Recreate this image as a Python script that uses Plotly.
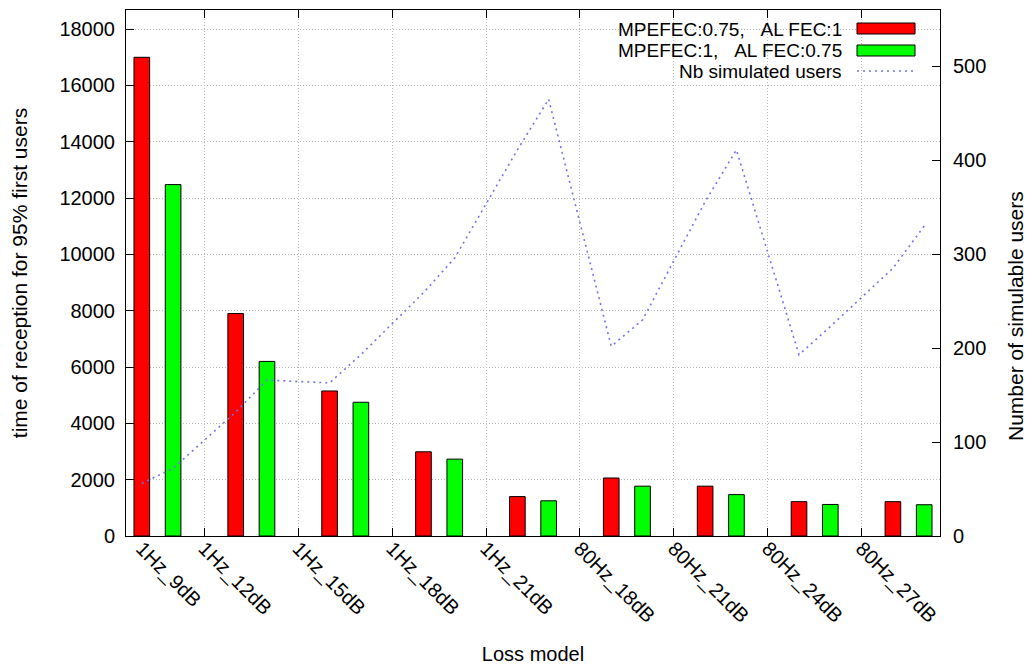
import plotly.graph_objects as go

# ---------------- data ----------------
categories = ["1Hz_9dB", "1Hz_12dB", "1Hz_15dB", "1Hz_18dB", "1Hz_21dB",
              "80Hz_18dB", "80Hz_21dB", "80Hz_24dB", "80Hz_27dB"]
time_mpefec075 = [17000, 7900, 5150, 2990, 1400, 2060, 1770, 1220, 1220]
time_mpefec1 = [12480, 6200, 4750, 2730, 1250, 1770, 1470, 1120, 1110]
users_mpefec075 = [56, 132, 163, 259, 411, 202, 356, 193, 285]
users_mpefec1 = [72, 166, 193, 296, 465, 230, 411, 223, 330]
left_ticks = [0, 2000, 4000, 6000, 8000, 10000, 12000, 14000, 16000, 18000]
right_ticks = [0, 100, 200, 300, 400, 500]

name_red = "MPEFEC:0.75,\u00a0\u00a0\u00a0AL FEC:1"
name_green = "MPEFEC:1,\u00a0\u00a0\u00a0AL FEC:0.75"
name_line = "Nb simulated users"

FONT = "Liberation Sans, Arial, Helvetica, sans-serif"
RED = "#ff0000"
GREEN = "#00ff00"
LINE_COL = "rgb(115,115,235)"
GRID_COL = "rgb(185,185,185)"
GRID_DASH = "1px,2px"

BARGAP = 1 / 3
BARGROUPGAP = 0.5
half = (1 - BARGAP) / 4  # centre offset of each bar within a cluster

n = len(categories)
xc = list(range(n))

# line passes through every bar centre (red then green for each cluster)
line_x, line_y = [], []
for i in range(n):
    line_x += [xc[i] - half, xc[i] + half]
    line_y += [users_mpefec075[i], users_mpefec1[i]]

# tick-label positions (first label sits under the first bar, others on cluster borders)
label_x = [xc[0] - half] + [xc[i] - 0.5 for i in range(1, n)]
grid_x = [xc[i] - 0.5 for i in range(1, n)]

fig = go.Figure()
fig.add_trace(go.Bar(x=xc, y=time_mpefec075, name=name_red,
                     marker=dict(color=RED, line=dict(color="black", width=1)),
                     showlegend=False))
fig.add_trace(go.Bar(x=xc, y=time_mpefec1, name=name_green,
                     marker=dict(color=GREEN, line=dict(color="black", width=1)),
                     showlegend=False))
fig.add_trace(go.Scatter(x=line_x, y=line_y, yaxis="y2", mode="lines", name=name_line,
                         line=dict(color=LINE_COL, width=1.6, dash="2px,4px"),
                         showlegend=False))

# page has an 8px body margin; the figure is sized to fit the window
OFF = 8
W, H = 1034 - OFF, 671 - OFF
L, R, T, B = 126 - OFF, 94, 10 - OFF, 135
pw, ph = W - L - R, H - T - B


def px(x):
    """page pixel x -> paper fraction"""
    return (x - OFF - L) / pw


def py(y):
    """page pixel y -> paper fraction"""
    return (H - B - (y - OFF)) / ph


legend_rows = [(name_red, 30), (name_green, 50.5), (name_line, 71)]
annotations = []
for txt, yy in legend_rows:
    annotations.append(dict(x=px(843), y=py(yy), xref="paper", yref="paper",
                            text=txt, showarrow=False, xanchor="right", yanchor="middle",
                            borderpad=0,
                            font=dict(family=FONT, size=19, color="black")))
# right-hand axis title (gnuplot places it slightly below the middle)
annotations.append(dict(x=px(1015), y=py(316), xref="paper", yref="paper",
                        text="Number of simulable users", textangle=-90, showarrow=False,
                        xanchor="center", yanchor="middle",
                        font=dict(family=FONT, size=21, color="black")))

shapes = [
    dict(type="rect", xref="paper", yref="paper", x0=px(857), x1=px(915),
         y0=py(34), y1=py(23), fillcolor=RED, line=dict(color="black", width=1)),
    dict(type="rect", xref="paper", yref="paper", x0=px(857), x1=px(915),
         y0=py(56), y1=py(45), fillcolor=GREEN, line=dict(color="black", width=1)),
    dict(type="line", xref="paper", yref="paper", x0=px(857), x1=px(915),
         y0=py(71), y1=py(71), line=dict(color=LINE_COL, width=1.6, dash="2px,4px")),
]

fig.update_layout(
    width=W, height=H,
    margin=dict(l=L, r=R, t=T, b=B, autoexpand=False),
    paper_bgcolor="white", plot_bgcolor="white",
    barmode="group", bargap=BARGAP, bargroupgap=BARGROUPGAP,
    font=dict(family=FONT, size=20, color="black"),
    annotations=annotations, shapes=shapes,
    xaxis=dict(
        range=[-0.335, n - 1 + 0.335], automargin=False,
        tickmode="array", tickvals=label_x, ticktext=categories,
        tickangle=45, ticks="", showgrid=False, zeroline=False,
        showline=True, linecolor="black", linewidth=1, mirror="ticks",
        ticklabelstandoff=-8,
        tickfont=dict(family=FONT, size=20),
        minor=dict(tickmode="array", tickvals=grid_x, ticks="inside", ticklen=8,
                   tickcolor="black", tickwidth=1,
                   showgrid=True, gridcolor=GRID_COL, griddash=GRID_DASH, gridwidth=1),
        title=dict(text="Loss model", font=dict(family=FONT, size=20), standoff=20),
    ),
    yaxis=dict(
        range=[0, 18680], tickmode="array", tickvals=left_ticks, tickformat="d",
        automargin=False,
        ticks="inside", ticklen=8, tickcolor="black",
        showgrid=True, gridcolor=GRID_COL, griddash=GRID_DASH, gridwidth=1,
        zeroline=False, showline=True, linecolor="black", linewidth=1, mirror=True,
        ticklabelstandoff=6,
        tickfont=dict(family=FONT, size=20),
        title=dict(text="time of reception for 95% first users",
                   font=dict(family=FONT, size=21), standoff=26),
    ),
    yaxis2=dict(
        range=[0, 560], tickmode="array", tickvals=right_ticks, tickformat="d",
        overlaying="y", side="right", anchor="x", automargin=False,
        ticks="inside", ticklen=8, tickcolor="black",
        showgrid=False, zeroline=False, showline=True, linecolor="black", linewidth=1,
        ticklabelstandoff=8,
        tickfont=dict(family=FONT, size=20),
    ),
)

fig.write_html("out.html")
